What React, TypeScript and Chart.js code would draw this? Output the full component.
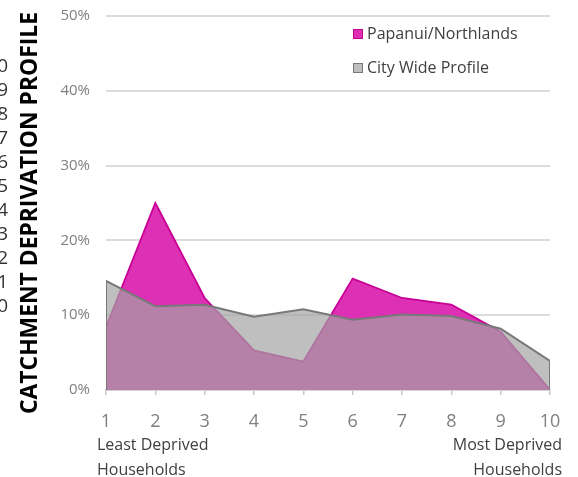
import React, { useEffect, useRef } from 'react';
import { Chart, registerables } from 'chart.js';

Chart.register(...registerables);

const deciles = [1, 2, 3, 4, 5, 6, 7, 8, 9, 10];
const papanui = [8.4, 25.0, 12.3, 5.3, 3.8, 14.9, 12.3, 11.4, 7.8, 0];
const cityWide = [14.6, 11.2, 11.4, 9.8, 10.8, 9.4, 10.1, 9.9, 8.2, 3.9];
const seriesNames = ['Papanui/Northlands', 'City Wide Profile'];
const axisTitle = 'CATCHMENT DEPRIVATION PROFILE';
const leftEndLabel = ['Least Deprived', 'Households'];
const rightEndLabel = ['Most Deprived', 'Households'];
const sideDigits = ['10', '9', '8', '7', '6', '5', '4', '3', '2', '1', '0'];

const FONT = "'Open Sans', 'Noto Sans', sans-serif";

const annotations = {
  id: 'annotations',
  afterDraw(chart: any) {
    const ctx = chart.ctx as CanvasRenderingContext2D;
    // cropped digit column at the far left
    ctx.save();
    ctx.font = `19px ${FONT}`;
    ctx.fillStyle = '#333333';
    ctx.textAlign = 'right';
    ctx.textBaseline = 'middle';
    sideDigits.forEach((d, i) => ctx.fillText(d, 8, 67 + i * 24));
    ctx.restore();

    // rotated side title
    ctx.save();
    ctx.translate(37, 213);
    ctx.rotate(-Math.PI / 2);
    ctx.font = `bold 23px ${FONT}`;
    ctx.fillStyle = '#000000';
    ctx.textAlign = 'center';
    ctx.textBaseline = 'alphabetic';
    ctx.fillText(axisTitle, 0, 0, 402);
    ctx.restore();

    // end labels under the x axis
    ctx.save();
    ctx.font = `16px ${FONT}`;
    ctx.fillStyle = '#404040';
    ctx.textBaseline = 'alphabetic';
    ctx.textAlign = 'left';
    leftEndLabel.forEach((t, i) => ctx.fillText(t, 97, 450 + i * 25));
    ctx.textAlign = 'right';
    rightEndLabel.forEach((t, i) => ctx.fillText(t, 562, 450 + i * 25));
    ctx.restore();

    // legend
    ctx.save();
    ctx.font = `16px ${FONT}`;
    ctx.textBaseline = 'middle';
    ctx.textAlign = 'left';
    chart.data.datasets.forEach((ds: any, i: number) => {
      const y = 29 + i * 34;
      ctx.fillStyle = ds.legendColor;
      ctx.fillRect(353, y, 10, 10);
      ctx.strokeStyle = ds.borderColor;
      ctx.lineWidth = 1;
      ctx.strokeRect(353.5, y + 0.5, 9, 9);
      ctx.fillStyle = '#404040';
      ctx.fillText(ds.label, 367, y + 5.5);
    });
    ctx.restore();
  },
};

export default function App() {
  const ref = useRef<HTMLCanvasElement | null>(null);

  useEffect(() => {
    if (!ref.current) return;
    const papanuiPts = deciles.map((x, i) => ({ x, y: papanui[i] }));
    const cityPts = [
      { x: deciles[0], y: 0 },
      ...deciles.map((x, i) => ({ x, y: cityWide[i] })),
      { x: deciles[deciles.length - 1], y: 0 },
    ];
    const chart = new Chart(ref.current, {
      type: 'line',
      data: {
        datasets: [
          {
            label: seriesNames[0],
            data: papanuiPts,
            fill: 'origin',
            backgroundColor: 'rgb(222,48,180)',
            borderColor: 'rgb(200,0,150)',
            borderWidth: 1.8,
            pointRadius: 0,
            tension: 0,
            order: 2,
            legendColor: 'rgb(222,48,180)',
          } as any,
          {
            label: seriesNames[1],
            data: cityPts,
            fill: 'origin',
            backgroundColor: 'rgba(164,164,164,0.7)',
            borderColor: 'rgb(120,120,120)',
            borderWidth: 2,
            pointRadius: 0,
            tension: 0,
            order: 1,
            legendColor: 'rgb(191,191,191)',
          } as any,
        ],
      },
      options: {
        responsive: false,
        animation: false,
        events: [],
        layout: { padding: { left: 0, right: 28, top: 16, bottom: 0 } },
        plugins: {
          legend: { display: false },
          tooltip: { enabled: false },
          title: { display: false },
        },
        scales: {
          x: {
            type: 'linear',
            min: 1,
            max: 10,
            afterFit: (s: any) => {
              s.height = 87;
            },
            ticks: {
              stepSize: 1,
              color: '#7f7f7f',
              font: { family: FONT, size: 18 },
              padding: 16,
              callback: (v: any) => String(v),
            },
            grid: {
              display: true,
              drawOnChartArea: false,
              drawTicks: true,
              tickLength: 5,
              color: '#c8c8c8',
              lineWidth: 1.5,
            },
            border: { display: true, color: '#c8c8c8', width: 1.5 },
          },
          y: {
            min: 0,
            max: 50,
            afterFit: (s: any) => {
              s.width = 106;
              s.paddingTop = 0;
              s.paddingBottom = 0;
            },
            ticks: {
              stepSize: 10,
              color: '#7f7f7f',
              font: { family: FONT, size: 15 },
              padding: 16,
              callback: (v: any) => v + '%',
            },
            grid: { color: '#dcdcdc', lineWidth: 2, drawTicks: false },
            border: { display: false },
          },
        },
      },
      plugins: [annotations],
    });
    return () => chart.destroy();
  }, []);

  return (
    <div style={{ position: 'fixed', left: 0, top: 0, width: 578, height: 477, background: '#ffffff', overflow: 'hidden' }}>
      <canvas ref={ref} width={578} height={477} style={{ display: 'block' }} />
    </div>
  );
}
